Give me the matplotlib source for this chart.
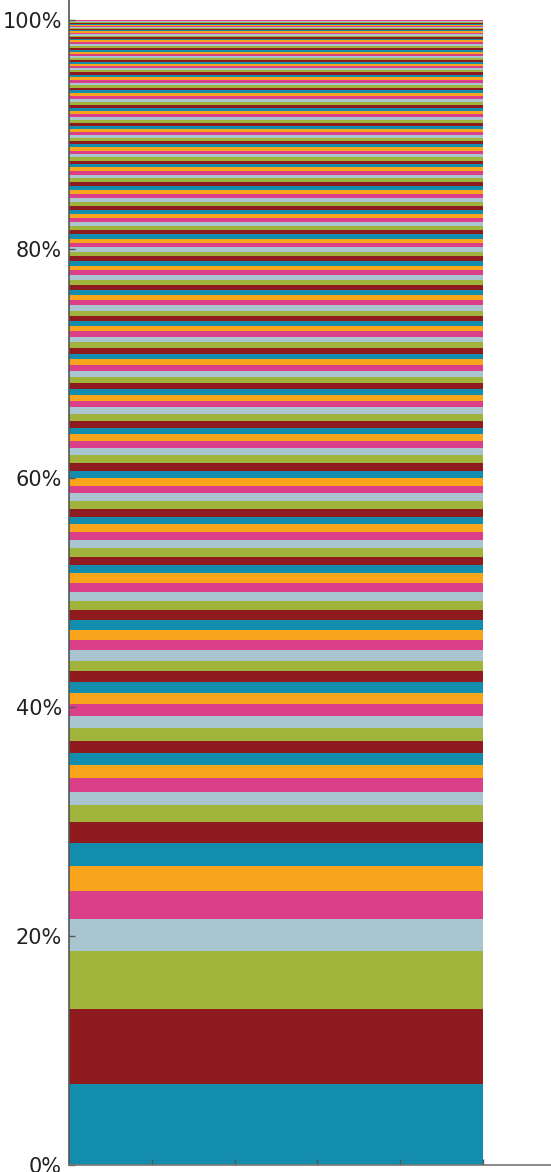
import matplotlib
matplotlib.use("Agg")
import matplotlib.pyplot as plt
from matplotlib.ticker import PercentFormatter

# segment sizes, bottom to top (raw shares, normalised to 100%)
sizes = [
    81, 75, 58, 32, 28, 25, 23, 21, 17, 13, 14, 13, 12, 12, 13, 12, 12, 11,
    11, 11, 10, 11, 10, 10, 10, 10, 9, 9, 9, 10, 8, 8, 9, 8, 8, 8, 7, 8, 8,
    8, 7, 8, 7, 8, 8, 7, 7, 7, 6, 7, 7, 7, 6, 6, 6, 6, 6, 6, 6, 6, 5, 6, 6,
    5, 6, 5, 5, 5, 5, 6, 5,
    5, 5, 5, 5, 5, 5, 4, 5, 5, 4, 5, 4, 4, 5, 4, 4, 4, 4, 4, 4, 4, 4, 4, 4,
    4, 4, 4, 4, 3, 4, 4, 3, 3,
    4, 3, 3, 4, 3, 3, 3, 3, 3, 3, 3, 3, 3, 3, 3, 3, 3, 3, 3, 3, 3, 3, 3, 2,
    3, 2, 3,
    3, 2, 3, 2, 2, 2, 2, 2, 2, 2, 2, 2, 2, 2, 2, 2, 2, 2, 2, 1.5, 1.5, 1.5,
    1.5, 1.5, 1.5, 1.5, 1, 1, 1, 1, 1, 1, 1, 1, 1, 1,
]
palette = ["#128dad", "#8f1b1f", "#a0b43c", "#a8c5d0", "#db3f8a", "#f9a51b"]
yticks = [0, 0.2, 0.4, 0.6, 0.8, 1.0]
xticks = [0.2, 0.4, 0.6, 0.8, 1.0]

total = float(sum(sizes))
shares = [s / total for s in sizes]

fig = plt.figure(figsize=(5.51, 11.72), dpi=100)
ax = fig.add_axes([69 / 551, 7 / 1172, 482 / 551, 1165 / 1172])

bottom = 0.0
for i, s in enumerate(shares):
    ax.bar(0, s, width=1.0, bottom=bottom, align="edge",
           color=palette[i % len(palette)], linewidth=0)
    bottom += s

ax.set_xlim(0, 482 / 414)
ax.set_ylim(0, 1165 / 1145)
ax.set_yticks(yticks)
ax.yaxis.set_major_formatter(PercentFormatter(1.0, decimals=0))
ax.set_xticks(xticks)
ax.set_xticklabels([])
ax.tick_params(direction="in", length=4, width=1, color="#555555",
               labelsize=15, labelcolor="#222222", pad=5)

for side in ["top", "right"]:
    ax.spines[side].set_visible(False)
ax.spines["left"].set_color("#555555")
ax.spines["left"].set_linewidth(1.2)
ax.spines["bottom"].set_color("#777777")
ax.spines["bottom"].set_linewidth(1.2)

fig.savefig("out.png", dpi=100)
